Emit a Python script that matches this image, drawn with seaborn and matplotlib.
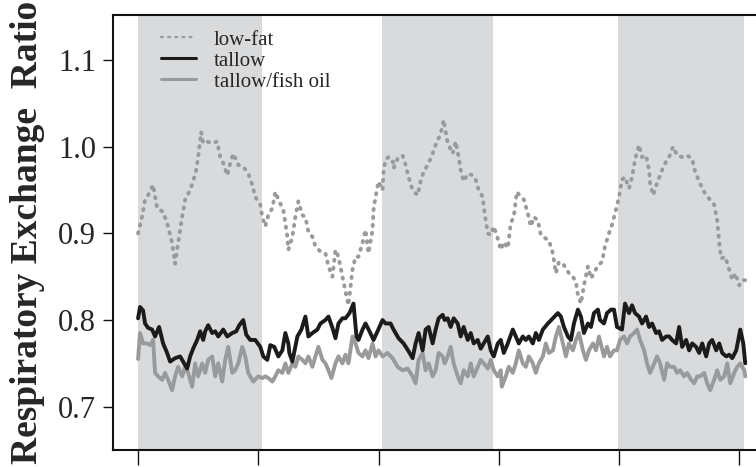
import numpy as np
import pandas as pd
import matplotlib
matplotlib.use("Agg")
import matplotlib.pyplot as plt
import seaborn as sns

# ---------------- data (hours, RER) ----------------
lowfat_h = [0.0, 0.4, 0.7, 1.0, 1.5, 1.9, 2.5, 3.0, 3.4, 3.7, 4.0, 4.4, 4.7, 5.2, 5.5, 5.8, 6.0, 6.3, 6.5, 6.9,
            7.4, 7.9, 8.2, 8.5, 8.9, 9.2, 9.5, 10.0, 10.5, 11.0, 11.4, 11.7, 12.2, 12.4, 12.7, 13.0, 13.4, 13.7,
            14.0, 14.5, 14.9, 15.0, 15.4, 15.7, 16.0, 16.4, 16.7, 17.0, 17.4, 17.7, 18.2, 18.7, 19.0, 19.4, 19.7,
            20.0, 20.4, 20.7, 21.0, 21.4, 21.7, 22.0, 22.4, 22.7, 23.0, 23.4, 23.5, 23.7, 24.0, 24.4, 24.5, 24.7,
            25.0, 25.4, 25.5, 25.9, 26.4, 26.7, 27.0, 27.4, 27.9, 28.2, 28.5, 29.0, 29.4, 29.7, 30.2, 30.5, 30.9,
            31.4, 31.7, 32.0, 32.2, 32.5, 32.9, 33.4, 33.7, 34.0, 34.4, 34.5, 34.7, 34.9, 35.2, 35.5, 35.9, 36.2,
            36.5, 36.9, 37.2, 37.5, 37.8, 38.2, 38.5, 38.9, 39.2, 39.5, 39.9, 40.2, 40.7, 41.0, 41.4, 41.7, 42.0,
            42.4, 42.7, 43.0, 43.4, 43.7, 43.9, 44.2, 44.5, 44.9, 45.2, 45.5, 45.9, 46.3, 46.6, 47.0, 47.3, 47.6,
            48.0, 48.3, 48.6, 49.0, 49.3, 49.6, 50.0, 50.3, 50.7, 51.0, 51.1, 51.4, 51.8, 52.1, 52.5, 53.0, 53.4,
            53.8, 54.3, 54.8, 55.3, 55.6, 56.0, 56.3, 56.6, 57.0, 57.5, 57.8, 58.0, 58.2, 58.6, 59.0, 59.3, 59.6,
            60.0, 60.3, 60.6]
lowfat_rer = [0.900, 0.919, 0.939, 0.944, 0.956, 0.929, 0.925, 0.908, 0.889, 0.865, 0.889, 0.919, 0.939, 0.950,
              0.960, 0.973, 0.988, 1.017, 1.004, 1.006, 1.004, 1.006, 0.988, 0.981, 0.967, 0.981, 0.992, 0.979,
              0.977, 0.969, 0.956, 0.942, 0.933, 0.919, 0.908, 0.921, 0.929, 0.948, 0.939, 0.927, 0.896, 0.881,
              0.896, 0.919, 0.937, 0.921, 0.919, 0.902, 0.896, 0.885, 0.879, 0.877, 0.862, 0.850, 0.881, 0.873,
              0.850, 0.833, 0.817, 0.858, 0.873, 0.873, 0.889, 0.904, 0.877, 0.904, 0.927, 0.942, 0.960, 0.950,
              0.971, 0.985, 0.988, 0.985, 0.975, 0.986, 0.990, 0.979, 0.965, 0.950, 0.944, 0.960, 0.971, 0.981,
              0.992, 1.002, 1.015, 1.031, 1.004, 0.992, 1.006, 0.988, 0.973, 0.960, 0.969, 0.967, 0.962, 0.950,
              0.942, 0.931, 0.915, 0.900, 0.898, 0.908, 0.894, 0.881, 0.890, 0.883, 0.912, 0.919, 0.948, 0.942,
              0.939, 0.923, 0.908, 0.919, 0.915, 0.898, 0.894, 0.892, 0.877, 0.854, 0.867, 0.865, 0.860, 0.854,
              0.850, 0.844, 0.829, 0.819, 0.840, 0.862, 0.848, 0.854, 0.863, 0.867, 0.885, 0.900, 0.910, 0.923,
              0.942, 0.962, 0.965, 0.952, 0.965, 0.985, 1.002, 0.988, 0.990, 0.973, 0.958, 0.944, 0.958, 0.967,
              0.979, 0.988, 1.000, 0.990, 0.988, 0.990, 0.986, 0.971, 0.960, 0.952, 0.946, 0.940, 0.933, 0.915,
              0.889, 0.871, 0.873, 0.858, 0.846, 0.854, 0.840, 0.846, 0.846]

tallow_h = [0.0, 0.2, 0.5, 0.7, 1.0, 1.4, 1.7, 2.1, 2.5, 2.9, 3.2, 3.7, 4.2, 4.5, 4.9, 5.2, 5.5, 5.9, 6.2, 6.5,
            6.7, 7.0, 7.4, 7.7, 8.0, 8.5, 8.9, 9.4, 9.8, 10.1, 10.5, 10.8, 11.2, 11.7, 12.2, 12.5, 12.9, 13.2,
            13.6, 14.0, 14.4, 14.7, 15.0, 15.1, 15.4, 15.9, 16.3, 16.7, 17.0, 17.4, 17.9, 18.2, 18.7, 19.0, 19.4,
            19.7, 20.0, 20.4, 20.7, 21.1, 21.5, 21.8, 22.0, 22.4, 22.7, 23.1, 23.5, 23.9, 24.4, 24.7, 25.2, 25.5,
            26.0, 26.5, 27.0, 27.4, 27.7, 28.0, 28.4, 28.7, 29.0, 29.4, 29.7, 30.0, 30.4, 30.6, 30.9, 31.2, 31.5,
            31.9, 32.2, 32.5, 32.9, 33.2, 33.5, 33.9, 34.2, 34.5, 34.9, 35.2, 35.5, 35.9, 36.2, 36.5, 36.9, 37.4,
            37.7, 38.0, 38.4, 38.7, 39.0, 39.4, 39.7, 40.0, 40.4, 40.9, 41.4, 41.9, 42.2, 42.5, 42.9, 43.2, 43.5,
            43.9, 44.2, 44.5, 44.9, 45.2, 45.5, 45.9, 46.1, 46.5, 46.8, 47.2, 47.5, 47.8, 48.3, 48.6, 49.0, 49.3,
            49.6, 50.0, 50.3, 50.7, 51.0, 51.3, 51.7, 52.0, 52.3, 52.7, 53.0, 53.3, 53.7, 54.0, 54.3, 54.7, 55.0,
            55.3, 55.7, 56.0, 56.3, 56.7, 57.0, 57.3, 57.7, 58.0, 58.3, 58.7, 59.0, 59.3, 59.7, 60.1, 60.4, 60.6]
tallow_rer = [0.802, 0.815, 0.811, 0.796, 0.791, 0.789, 0.781, 0.792, 0.773, 0.762, 0.752, 0.756, 0.758, 0.752,
              0.744, 0.758, 0.767, 0.777, 0.787, 0.777, 0.787, 0.794, 0.785, 0.787, 0.781, 0.789, 0.781, 0.785,
              0.787, 0.794, 0.800, 0.783, 0.777, 0.777, 0.769, 0.758, 0.754, 0.771, 0.769, 0.758, 0.765, 0.785,
              0.773, 0.762, 0.752, 0.781, 0.789, 0.804, 0.781, 0.785, 0.789, 0.796, 0.800, 0.804, 0.791, 0.779,
              0.796, 0.802, 0.802, 0.808, 0.819, 0.781, 0.777, 0.789, 0.796, 0.787, 0.777, 0.787, 0.800, 0.796,
              0.796, 0.789, 0.779, 0.773, 0.764, 0.756, 0.773, 0.785, 0.765, 0.789, 0.792, 0.773, 0.789, 0.802,
              0.806, 0.800, 0.802, 0.792, 0.802, 0.796, 0.781, 0.792, 0.777, 0.785, 0.773, 0.777, 0.767, 0.773,
              0.781, 0.765, 0.758, 0.773, 0.777, 0.762, 0.773, 0.789, 0.781, 0.773, 0.781, 0.777, 0.781, 0.773,
              0.785, 0.777, 0.789, 0.796, 0.802, 0.808, 0.804, 0.792, 0.781, 0.777, 0.796, 0.812, 0.804, 0.785,
              0.796, 0.792, 0.808, 0.812, 0.800, 0.796, 0.808, 0.812, 0.812, 0.792, 0.789, 0.819, 0.808, 0.817,
              0.808, 0.804, 0.796, 0.804, 0.792, 0.796, 0.785, 0.787, 0.777, 0.781, 0.781, 0.777, 0.773, 0.792,
              0.769, 0.777, 0.765, 0.773, 0.769, 0.762, 0.773, 0.758, 0.773, 0.777, 0.765, 0.773, 0.762, 0.758,
              0.760, 0.756, 0.765, 0.789, 0.773, 0.750]

fishoil_h = [0.0, 0.2, 0.5, 0.9, 1.2, 1.5, 1.7, 2.0, 2.4, 2.7, 3.0, 3.4, 3.7, 4.0, 4.4, 4.7, 5.0, 5.4, 5.7, 6.0,
             6.4, 6.7, 7.0, 7.4, 7.7, 8.0, 8.4, 8.7, 9.0, 9.4, 9.7, 10.0, 10.4, 10.7, 11.0, 11.5, 12.0, 12.4, 12.7,
             13.0, 13.4, 13.7, 14.0, 14.4, 14.7, 15.0, 15.4, 15.7, 16.0, 16.4, 16.7, 17.0, 17.4, 17.7, 18.0, 18.4,
             18.7, 19.0, 19.3, 19.7, 20.0, 20.4, 20.7, 21.0, 21.4, 21.7, 22.0, 22.4, 22.7, 23.0, 23.4, 23.7, 24.0,
             24.4, 24.9, 25.4, 25.9, 26.4, 26.9, 27.4, 27.7, 28.0, 28.4, 28.7, 29.0, 29.4, 29.7, 30.0, 30.4, 30.6,
             30.9, 31.2, 31.5, 31.9, 32.2, 32.5, 32.9, 33.2, 33.5, 33.9, 34.2, 34.5, 34.9, 35.2, 35.5, 35.9, 36.2,
             36.3, 36.7, 37.0, 37.4, 37.7, 38.0, 38.4, 38.7, 39.0, 39.4, 39.7, 40.0, 40.4, 40.7, 41.0, 41.4, 41.7,
             42.0, 42.4, 42.7, 43.0, 43.4, 43.7, 44.0, 44.4, 44.7, 45.0, 45.4, 45.7, 46.0, 46.5, 46.8, 47.1, 47.5,
             47.8, 48.1, 48.5, 48.8, 49.1, 49.5, 49.8, 50.1, 50.5, 50.8, 51.1, 51.5, 51.8, 52.1, 52.5, 52.8, 53.1,
             53.5, 53.8, 54.1, 54.5, 54.8, 55.2, 55.5, 55.8, 56.1, 56.5, 56.8, 57.1, 57.5, 57.8, 58.1, 58.5, 58.8,
             59.1, 59.5, 59.8, 60.1, 60.5, 60.6]
fishoil_rer = [0.755, 0.785, 0.773, 0.773, 0.771, 0.777, 0.739, 0.735, 0.731, 0.739, 0.731, 0.719, 0.735, 0.746,
               0.735, 0.746, 0.739, 0.723, 0.750, 0.735, 0.750, 0.739, 0.754, 0.758, 0.735, 0.750, 0.729, 0.754,
               0.769, 0.739, 0.742, 0.750, 0.769, 0.758, 0.739, 0.729, 0.735, 0.733, 0.735, 0.733, 0.729, 0.735,
               0.742, 0.739, 0.750, 0.739, 0.750, 0.746, 0.758, 0.754, 0.750, 0.758, 0.746, 0.758, 0.769, 0.754,
               0.750, 0.742, 0.733, 0.750, 0.758, 0.750, 0.760, 0.750, 0.781, 0.773, 0.762, 0.758, 0.765, 0.756,
               0.773, 0.758, 0.765, 0.758, 0.762, 0.756, 0.746, 0.742, 0.744, 0.735, 0.727, 0.754, 0.762, 0.742,
               0.750, 0.735, 0.742, 0.762, 0.758, 0.750, 0.758, 0.769, 0.750, 0.735, 0.727, 0.742, 0.735, 0.750,
               0.735, 0.746, 0.754, 0.750, 0.744, 0.754, 0.742, 0.735, 0.742, 0.723, 0.735, 0.746, 0.739, 0.750,
               0.765, 0.750, 0.746, 0.758, 0.750, 0.739, 0.750, 0.758, 0.773, 0.762, 0.765, 0.781, 0.792, 0.773,
               0.758, 0.773, 0.765, 0.777, 0.785, 0.765, 0.754, 0.765, 0.773, 0.765, 0.781, 0.758, 0.769, 0.758,
               0.765, 0.765, 0.777, 0.781, 0.773, 0.781, 0.785, 0.789, 0.777, 0.765, 0.750, 0.739, 0.750, 0.758,
               0.750, 0.731, 0.750, 0.746, 0.746, 0.739, 0.742, 0.735, 0.739, 0.731, 0.727, 0.735, 0.735, 0.739,
               0.727, 0.719, 0.731, 0.742, 0.731, 0.735, 0.750, 0.727, 0.739, 0.746, 0.750, 0.742, 0.735]

dark_start = [0.0, 24.3, 47.9]
dark_end = [12.4, 35.4, 60.5]
x_ticks = [0, 12, 24, 36, 48, 60]
y_ticks = [0.7, 0.8, 0.9, 1.0, 1.1]
series_names = ["low-fat", "tallow", "tallow/fish oil"]

# ---------------- style ----------------
sns.set_style("ticks")
plt.rcParams["font.family"] = ["Liberation Serif", "DejaVu Serif"]

fig = plt.figure(figsize=(7.56, 4.67), dpi=100)
W, H = 756, 467
ax_left, ax_bottom, ax_top = 113, 450, 15
px_per_h = 10.02
x0 = -2.5
x1 = 63.0
ax_w = (x1 - x0) * px_per_h
ax_h = ax_bottom - ax_top
ax = fig.add_axes([ax_left / W, (H - ax_bottom) / H, ax_w / W, ax_h / H])

for s, e in zip(dark_start, dark_end):
    ax.axvspan(s, e, color="#d9dadc", lw=0, zorder=0)

gray = "#999a9c"
black = "#1c1a1b"
df_lf = pd.DataFrame({"h": lowfat_h, "rer": lowfat_rer})
df_t = pd.DataFrame({"h": tallow_h, "rer": tallow_rer})
df_f = pd.DataFrame({"h": fishoil_h, "rer": fishoil_rer})

sns.lineplot(data=df_lf, x="h", y="rer", ax=ax, color=gray, lw=2.8, estimator=None, sort=False,
             label=series_names[0], zorder=3)
sns.lineplot(data=df_t, x="h", y="rer", ax=ax, color=black, lw=2.8, estimator=None, sort=False,
             label=series_names[1], zorder=4)
sns.lineplot(data=df_f, x="h", y="rer", ax=ax, color=gray, lw=2.8, estimator=None, sort=False,
             label=series_names[2], zorder=3)

lf_line = ax.lines[0]
lf_line.set_dashes((0.3, 1.75))
lf_line.set_dash_capstyle("round")

ax.set_xlim(x0, x1)
ax.set_ylim(0.65, 1.152)
ax.set_xticks(x_ticks)
ax.set_yticks(y_ticks)
ax.set_yticklabels([f"{v:.1f}" for v in y_ticks])
ax.tick_params(axis="x", length=11, width=1.0, direction="out", labelbottom=False, color="#111")
ax.tick_params(axis="y", length=7, width=1.0, direction="out", labelsize=22, pad=5, color="#111")
ax.set_xlabel("")
ax.set_ylabel("Respiratory Exchange  Ratio", fontsize=27, fontweight="bold", va="center")
ax.yaxis.set_label_coords((28 - ax_left) / ax_w, 0.5)

for side in ["left", "bottom", "top"]:
    ax.spines[side].set_linewidth(1.5)
    ax.spines[side].set_color("#111")
ax.spines["right"].set_visible(False)

leg = ax.legend(loc="upper left",
                bbox_to_anchor=((161 - ax_left) / ax_w, 1 - (30 - ax_top) / ax_h),
                frameon=False, fontsize=15, handlelength=1.68, handletextpad=0.86, labelspacing=0.07,
                borderaxespad=0, borderpad=0)
for lh in leg.get_lines():
    lh.set_linewidth(2.2)
leg.get_lines()[0].set_linewidth(1.6)
leg.get_lines()[0].set_dashes((0.9, 2.3))
leg.get_lines()[0].set_dash_capstyle("round")

fig.savefig("out.png", dpi=100)
